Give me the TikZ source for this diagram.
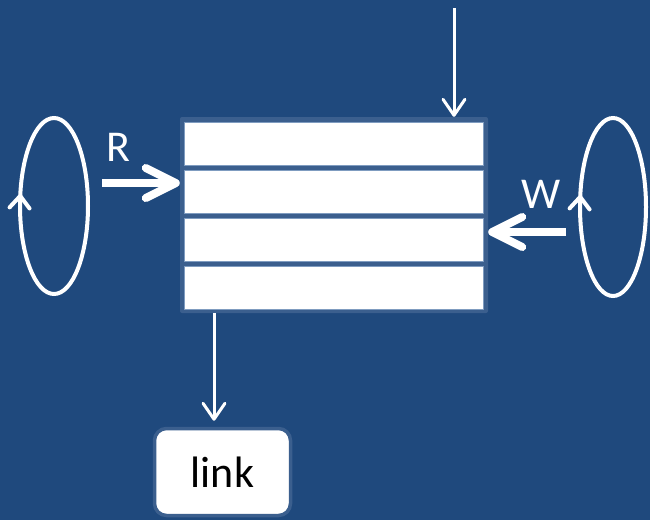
\documentclass[tikz,border=0pt]{standalone}
\usepackage{fontspec}
\setmainfont{Carlito}
\usetikzlibrary{arrows.meta,decorations.markings}
\definecolor{bgblue}{HTML}{1F497D}
\definecolor{frameblue}{HTML}{3B5F8E}
\definecolor{rowline}{HTML}{7F9CC0}
\tikzset{
  row/.style={draw=rowline, line width=1pt, fill=white, minimum width=299pt, minimum height=43pt, inner sep=0pt},
  thin arrow/.style={white, line width=3pt, -{Straight Barb[round,length=16pt,width=22pt]}},
  thick arrow/.style={white, line width=8pt, -{Straight Barb[round,length=30pt,width=30pt]}},
  loop/.style={white, line width=4pt, postaction={decorate},
    decoration={markings, mark=at position 0.47 with {\arrowreversed{Straight Barb[round,length=12pt,width=20pt]}}}},
  lbl/.style={white, font=\fontsize{44}{48}\selectfont, inner sep=0pt}
}
\begin{document}
\begin{tikzpicture}[x=1pt,y=-1pt]
  \fill[bgblue] (0,0) rectangle (650,520);
  \useasboundingbox (0,0) rectangle (650,520);

  % queue with four slots
  \node[fill=frameblue, rounded corners=2pt, minimum width=308pt, minimum height=196pt, inner sep=0pt] (queue) at (334,215) {};
  \node[row] (row1) at (333.5,143.5) {};
  \node[row] (row2) at (333.5,191.5) {};
  \node[row] (row3) at (333.5,239.5) {};
  \node[row] (row4) at (333.5,287.5) {};

  \node[draw=frameblue, line width=3.5pt, fill=white, rounded corners=12pt, minimum width=136pt, minimum height=87pt, font=\fontsize{44}{48}\selectfont] (link) at (222.5,472) {link};

  \node[lbl] (rlbl) at (118,147) {R};
  \node[lbl] (wlbl) at (541,194) {W};

  \coordinate (topin) at (454,8);
  \coordinate (rin) at (102,183);
  \coordinate (win) at (566,232);
  \coordinate (outlink) at (214,0);

  \draw[thin arrow] (topin) -- (topin |- queue.north);
  \draw[thin arrow, shorten >=6pt] (outlink |- queue.south) -- (outlink |- link.north);
  \draw[thick arrow] (rin) -- (rin -| queue.west);
  \draw[thick arrow] (win) -- (win -| queue.east);

  % reader and writer loops
  \draw[loop] (54,206) ellipse [x radius=34pt, y radius=88pt];
  \draw[loop] (613,207) ellipse [x radius=33pt, y radius=89pt];
\end{tikzpicture}
\end{document}
